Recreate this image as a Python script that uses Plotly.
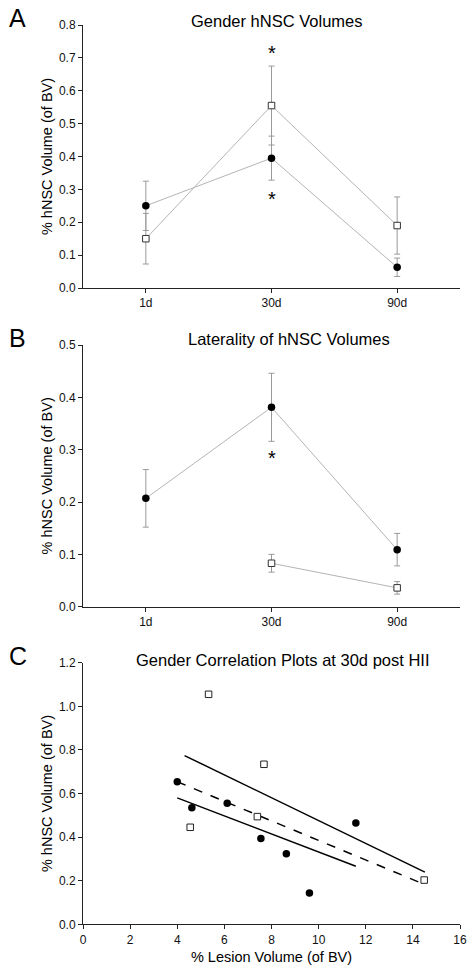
import plotly.graph_objects as go

FONT = "Liberation Sans, Arial, sans-serif"

# ---- Panel A: Gender hNSC Volumes ----
days = ["1d", "30d", "90d"]
a_circle = [0.25, 0.395, 0.063]
a_circle_err = [0.075, 0.067, 0.028]
a_square = [0.15, 0.555, 0.19]
a_square_err = [0.077, 0.12, 0.087]
a_star_y = [0.726, 0.283]

# ---- Panel B: Laterality ----
b_circle = [0.207, 0.381, 0.109]
b_circle_err = [0.055, 0.065, 0.031]
b_square_days = ["30d", "90d"]
b_square = [0.083, 0.036]
b_square_err = [0.017, 0.012]
b_star_y = [0.291]

# ---- Panel C: Correlation ----
c_circle_x = [4.0, 4.62, 6.12, 7.55, 8.63, 9.61, 11.58]
c_circle_y = [0.654, 0.535, 0.555, 0.394, 0.324, 0.144, 0.465]
c_square_x = [5.33, 4.55, 7.68, 7.40, 14.48]
c_square_y = [1.055, 0.445, 0.734, 0.494, 0.203]
fit_upper_x = [4.31, 14.51]
fit_upper_y = [0.774, 0.239]
fit_dash_x = [4.0, 14.45]
fit_dash_y = [0.654, 0.185]
fit_lower_x = [4.0, 11.58]
fit_lower_y = [0.580, 0.266]

LINE_GRAY = "#b4b4b4"
ERR_GRAY = "#9a9a9a"

fig = go.Figure()

def err(arr):
    return dict(type="data", array=arr, visible=True, color=ERR_GRAY, thickness=1, width=3)

circle_m = dict(symbol="circle", size=7.5, color="black", line=dict(width=0))
square_m = dict(symbol="square", size=6.5, color="white", line=dict(width=1, color="#333"))

# Panel A
fig.add_trace(go.Scatter(x=days, y=a_square, error_y=err(a_square_err), mode="lines+markers",
                         line=dict(color=LINE_GRAY, width=1), marker=square_m, xaxis="x", yaxis="y"))
fig.add_trace(go.Scatter(x=days, y=a_circle, error_y=err(a_circle_err), mode="lines+markers",
                         line=dict(color=LINE_GRAY, width=1), marker=circle_m, xaxis="x", yaxis="y"))
# Panel B
fig.add_trace(go.Scatter(x=days, y=b_circle, error_y=err(b_circle_err), mode="lines+markers",
                         line=dict(color=LINE_GRAY, width=1), marker=circle_m, xaxis="x2", yaxis="y2"))
fig.add_trace(go.Scatter(x=b_square_days, y=b_square, error_y=err(b_square_err), mode="lines+markers",
                         line=dict(color=LINE_GRAY, width=1), marker=square_m, xaxis="x2", yaxis="y2"))
# Panel C
fig.add_trace(go.Scatter(x=fit_upper_x, y=fit_upper_y, mode="lines", line=dict(color="black", width=1.5),
                         xaxis="x3", yaxis="y3"))
fig.add_trace(go.Scatter(x=fit_dash_x, y=fit_dash_y, mode="lines", line=dict(color="black", width=1.5, dash="dash"),
                         xaxis="x3", yaxis="y3"))
fig.add_trace(go.Scatter(x=fit_lower_x, y=fit_lower_y, mode="lines", line=dict(color="black", width=1.5),
                         xaxis="x3", yaxis="y3"))
fig.add_trace(go.Scatter(x=c_circle_x, y=c_circle_y, mode="markers", marker=circle_m, xaxis="x3", yaxis="y3"))
fig.add_trace(go.Scatter(x=c_square_x, y=c_square_y, mode="markers",
                         marker=dict(symbol="square", size=6.5, color="white", line=dict(width=1, color="#222")),
                         xaxis="x3", yaxis="y3"))

W, H = 476, 975
xdom = [83 / W, 460 / W]
def ydom(top, bot):
    return [1 - bot / H, 1 - top / H]

axis_common = dict(showline=True, linecolor="#222", linewidth=1, ticks="outside", ticklen=4,
                   tickcolor="#222", showgrid=False, zeroline=False, automargin=False,
                   tickfont=dict(family=FONT, size=12, color="#111"))
ytitle = dict(text="% hNSC Volume (of BV)", font=dict(family=FONT, size=14.5, color="black"), standoff=2)

fig.update_layout(
    width=W, height=H, margin=dict(l=0, r=0, t=0, b=0),
    paper_bgcolor="white", plot_bgcolor="white", showlegend=False,
    font=dict(family=FONT, color="black"),
    xaxis=dict(domain=xdom, anchor="y", type="category", categoryarray=days, range=[-0.5, 2.5], **axis_common),
    yaxis=dict(domain=ydom(25, 288), anchor="x", range=[0, 0.8], dtick=0.1, tickformat=".1f",
               title=ytitle, **axis_common),
    xaxis2=dict(domain=xdom, anchor="y2", type="category", categoryarray=days, range=[-0.5, 2.5], **axis_common),
    yaxis2=dict(domain=ydom(345, 606.7), anchor="x2", range=[0, 0.5], dtick=0.1, tickformat=".1f",
                title=ytitle, **axis_common),
    xaxis3=dict(domain=xdom, anchor="y3", range=[0, 16], dtick=2,
                title=dict(text="% Lesion Volume (of BV)", font=dict(family=FONT, size=14.5, color="black"), standoff=6),
                **axis_common),
    yaxis3=dict(domain=ydom(662.7, 924.3), anchor="x3", range=[0, 1.2], dtick=0.2, tickformat=".1f",
                title=ytitle, **axis_common),
)

ann = []
titles = [("Gender hNSC Volumes", 277, 21), ("Laterality of hNSC Volumes", 289, 339),
          ("Gender Correlation Plots at 30d post HII", 283, 660)]
for t, cx, cy in titles:
    ann.append(dict(text=t, xref="paper", yref="paper", x=cx / W, y=1 - cy / H, xanchor="center",
                    yanchor="middle", showarrow=False, font=dict(family=FONT, size=16.5, color="black")))
for lab, cy in [("A", 18), ("B", 338), ("C", 656)]:
    ann.append(dict(text=lab, xref="paper", yref="paper", x=17.5 / W, y=1 - cy / H, xanchor="center",
                    yanchor="middle", showarrow=False, font=dict(family=FONT, size=25, color="black")))
for yv in a_star_y:
    ann.append(dict(text="*", xref="x", yref="y", x="30d", y=yv, showarrow=False, yanchor="middle",
                    yshift=-4, font=dict(family=FONT, size=20, color="black")))
for yv in b_star_y:
    ann.append(dict(text="*", xref="x2", yref="y2", x="30d", y=yv, showarrow=False, yanchor="middle",
                    yshift=-4, font=dict(family=FONT, size=20, color="black")))
fig.update_layout(annotations=ann)

fig.write_html("out.html", config={"displayModeBar": False},
               post_script="document.body.style.margin='0';document.body.style.overflow='hidden';")
